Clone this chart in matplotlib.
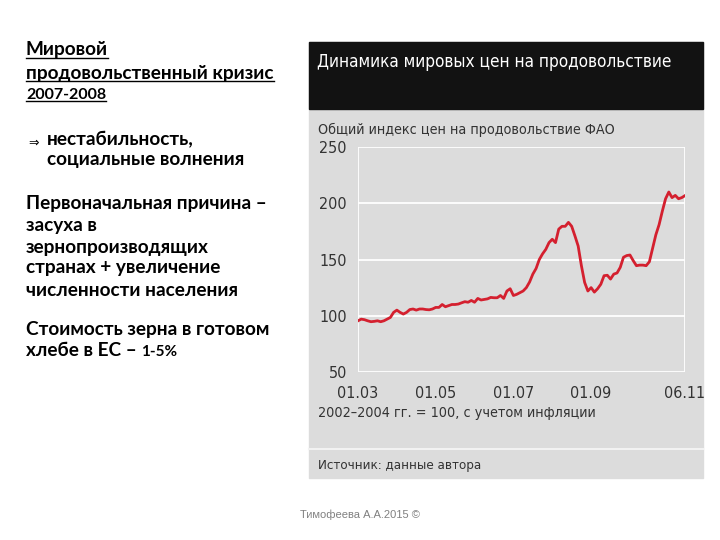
import numpy as np
import matplotlib
matplotlib.use("Agg")
import matplotlib.pyplot as plt
from matplotlib.patches import Rectangle
from matplotlib.lines import Line2D

# FAO real food price index, monthly, 01.2003 - 06.2011
months = np.arange(102)
index_vals = [95.5, 97, 96.5, 95.5, 94.7, 95, 95.5, 94.7, 95.5, 97,
              98.5, 103, 105, 103, 101.5, 103, 105.5, 106, 105, 106,
              106, 105.5, 105.3, 106, 107.4, 107.4, 110, 108, 109, 110,
              110, 110.4, 111.5, 112.5, 112, 113.6, 112, 115.4, 114, 114.5,
              115, 116.3, 116, 116, 118, 115.4, 122, 124, 118, 119,
              120.5, 122, 125, 130, 137, 142, 150, 155, 159, 165,
              168, 165, 177, 179.5, 179.5, 183, 179.5, 171, 162, 144.5,
              129.6, 122, 125, 121, 124, 128, 135.6, 136, 132.6, 137,
              138, 143, 152, 153.5, 154, 149, 144.5, 145, 145, 144.5,
              148, 160, 172, 181, 193, 204, 210, 205, 207, 204,
              205, 206.8]
x_ticks = [0, 24, 48, 72, 101]
x_labels = ["01.03", "01.05", "01.07", "01.09", "06.11"]
y_ticks = [50, 100, 150, 200, 250]

W, H = 720, 540
fig = plt.figure(figsize=(7.2, 5.4), dpi=100)
fig.patch.set_facecolor("white")


def fx(x):
    return x / W


def fy(y):
    return 1 - y / H


narrow = dict(family=["DejaVu Sans"], stretch="condensed")
slide = ["Lato", "DejaVu Sans"]

# chart panel
fig.patches.append(Rectangle((fx(309), fy(478)), fx(703) - fx(309), (478 - 42) / H,
                             transform=fig.transFigure, color="#dcdcdc", zorder=0))
fig.patches.append(Rectangle((fx(309), fy(109)), fx(703) - fx(309), (109 - 42) / H,
                             transform=fig.transFigure, color="#121212", zorder=0))
fig.add_artist(Line2D([fx(309), fx(703)], [fy(449), fy(449)], color="#f2f2f2",
                      lw=1.5, transform=fig.transFigure))

fig.text(fx(317), fy(62), "Динамика мировых цен на продовольствие", color="white",
         fontsize=12.3, va="center", ha="left", **narrow)
fig.text(fx(318), fy(130), "Общий индекс цен на продовольствие ФАО", color="#333333",
         fontsize=10.3, va="center", ha="left", **narrow)
fig.text(fx(318), fy(413), "2002–2004 гг. = 100, с учетом инфляции", color="#333333",
         fontsize=10.3, va="center", ha="left", **narrow)
fig.text(fx(318), fy(466), "Источник: данные автора", color="#333333",
         fontsize=9.5, va="center", ha="left", **narrow)

ax = fig.add_axes([fx(358), fy(372), fx(685) - fx(358), (372 - 147) / H])
ax.set_zorder(3)
ax.set_facecolor("none")
ax.plot(months, index_vals, color="#d4202f", lw=2, solid_joinstyle="round")
ax.set_xlim(0, 101)
ax.set_ylim(50, 250)
ax.set_yticks(y_ticks)
ax.set_xticks(x_ticks)
ax.set_xticklabels(x_labels)
for s in ax.spines.values():
    s.set_visible(False)
ax.grid(True, axis="y", color="white", lw=1.3)
ax.axvline(0, color="white", lw=1.3, zorder=0.5)
ax.axvline(101, color="white", lw=1.3, zorder=0.5)
ax.set_axisbelow(True)
ax.tick_params(length=0, labelsize=11.5, labelcolor="#333333", pad=8)
for lab in ax.get_xticklabels() + ax.get_yticklabels():
    lab.set_family(narrow["family"])
    lab.set_stretch("condensed")
ax.tick_params(axis="x", pad=10)

# left slide text
left_lines = [
    (26, 50, "Мировой", True, 13.7),
    (26, 73, "продовольственный кризис", True, 13.7),
    (26, 95, "2007-2008", True, 11.5),
    (47, 140, "нестабильность,", False, 13.7),
    (47, 160, "социальные волнения", False, 13.7),
    (26, 203, "Первоначальная причина –", False, 13.7),
    (26, 225, "засуха в", False, 13.7),
    (26, 247, "зернопроизводящих", False, 13.7),
    (26, 268, "странах + увеличение", False, 13.7),
    (26, 290, "численности населения", False, 13.7),
    (26, 330, "Стоимость зерна в готовом", False, 13.7),
    (26, 351, "хлебе в ЕС – ", False, 13.7),
]
texts = []
for x, y, s, ul, fs in left_lines:
    t = fig.text(fx(x), fy(y), s, fontsize=fs, fontweight="bold", family=slide,
                 color="black", va="center", ha="left")
    texts.append((t, ul))
fig.text(fx(28), fy(143), "⇒", fontsize=9, color="black", va="center", ha="left",
         family=["DejaVu Sans"])

fig.text(fx(360), fy(515), "Тимофеева А.А.2015 ©", fontsize=8, color="#808080",
         ha="center", va="center", family=["Liberation Sans", "DejaVu Sans"])

fig.canvas.draw()
r = fig.canvas.get_renderer()
for t, ul in texts:
    if ul:
        bb = t.get_window_extent(renderer=r)
        yb = bb.y0 + 1
        fig.add_artist(Line2D([bb.x0 / W, bb.x1 / W], [yb / H, yb / H], color="black",
                              lw=1, transform=fig.transFigure))
last = texts[-1][0].get_window_extent(renderer=r)
fig.text(last.x1 / W, fy(352), "1-5%", fontsize=11, fontweight="bold", family=slide,
         color="black", va="center", ha="left")

fig.savefig("out.png", dpi=100)
